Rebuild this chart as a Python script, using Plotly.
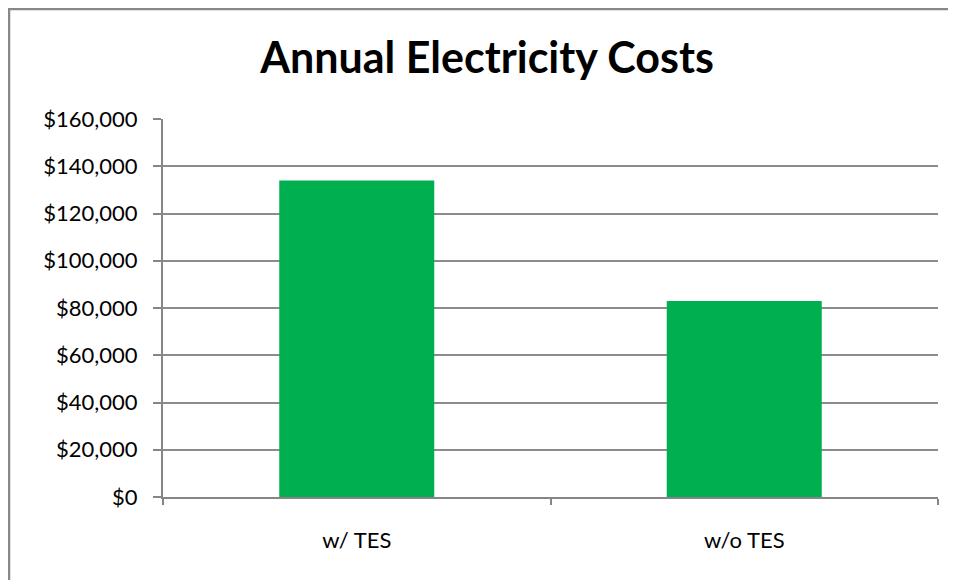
import plotly.graph_objects as go

categories = ["w/ TES", "w/o TES"]
costs = [134000, 83000]
tick_values = [0, 20000, 40000, 60000, 80000, 100000, 120000, 140000, 160000]
tick_labels = ["$0", "$20,000", "$40,000", "$60,000", "$80,000", "$100,000", "$120,000", "$140,000", "$160,000"]

# page has an 8px body margin; figure coords = screen coords - 8
W, H = 948, 572
L, R, T, B = 155, 930, 111, 489
pw, ph = R - L, B - T

def px_x(x):
    return (x - L) / pw

def px_y(y):
    return (B - y) / ph

fig = go.Figure(go.Bar(x=categories, y=costs, marker=dict(color="#00B050", line=dict(width=0)), width=0.4))

fig.update_layout(
    width=W, height=H,
    margin=dict(l=L, r=W - R, t=T, b=H - B, pad=0),
    paper_bgcolor="white", plot_bgcolor="white",
    font=dict(family="Lato, Open Sans, sans-serif", size=22, color="black"),
    title=dict(text="<b>Annual Electricity Costs</b>", x=479 / W, xanchor="center",
               y=1 - 50 / H, yanchor="middle", font=dict(size=43, color="black")),
    showlegend=False,
    bargap=0.6,
)
fig.update_xaxes(
    showline=True, linecolor="#868686", linewidth=2,
    ticks="outside", ticklen=6, tickcolor="#868686", tickwidth=1.5,
    tickson="boundaries", showgrid=False, ticklabelstandoff=23,
)
fig.update_yaxes(
    range=[0, 160000], tickvals=tick_values, ticktext=tick_labels,
    showline=True, linecolor="#868686", linewidth=2,
    ticks="outside", ticklen=8, tickcolor="#868686", tickwidth=1.5,
    showgrid=True, gridcolor="#8c8c8c", gridwidth=1.5, zeroline=False,
    ticklabelstandoff=11,
)
fig.add_shape(type="rect", xref="paper", yref="paper",
              x0=px_x(1), x1=px_x(980), y0=px_y(1), y1=px_y(620),
              line=dict(color="#888888", width=2.5), fillcolor="rgba(0,0,0,0)", layer="above")

fig.write_html("out.html")
